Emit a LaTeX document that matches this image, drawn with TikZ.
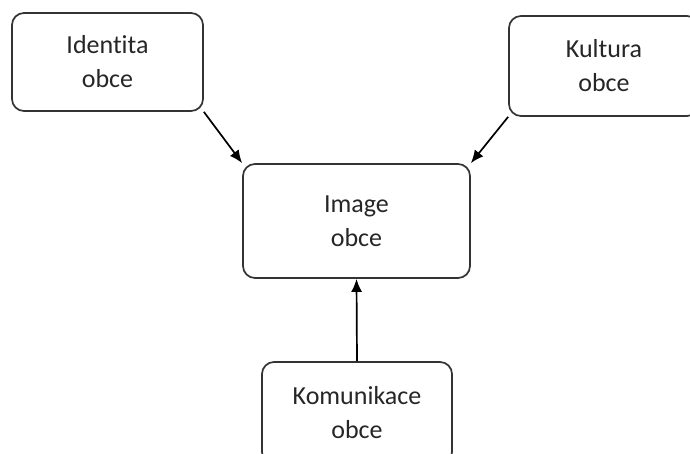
\documentclass[tikz,border=0pt]{standalone}
\usepackage{fontspec}
\setmainfont{Carlito}[Ligatures=NoCommon]
\usetikzlibrary{arrows.meta}

\begin{document}
\begin{tikzpicture}[
    x=1pt, y=-1pt,
    every node/.style={draw=black!80, line width=1.7pt, rectangle, rounded corners=12pt, align=center, inner sep=0pt, text=black!85, font=\fontsize{26}{34}\selectfont},
    sidebox/.style={minimum width=190pt, minimum height=100pt},
    mainbox/.style={minimum width=227pt, minimum height=114pt},
    arrow/.style={-{Latex[length=13pt,width=11pt]}, line width=1.7pt}
]
\useasboundingbox (0,0) rectangle (690,454);
\clip (0,0) rectangle (690,454);

\node[sidebox, minimum width=191pt, minimum height=98pt] (identita) at (107.5,62) {Identita\\obce};
\node[sidebox] (kultura) at (604,66) {Kultura\\obce};
\node[mainbox] (image) at (356.5,221) {Image\\obce};
\node[sidebox, minimum height=102pt] (komunikace) at (357,413) {Komunikace\\obce};

\draw[arrow] (identita.south east) -- (image.north west);
\draw[arrow] (kultura.south west) -- (image.north east);
\draw[arrow] (komunikace.north) -- (image.south);

\end{tikzpicture}
\end{document}
